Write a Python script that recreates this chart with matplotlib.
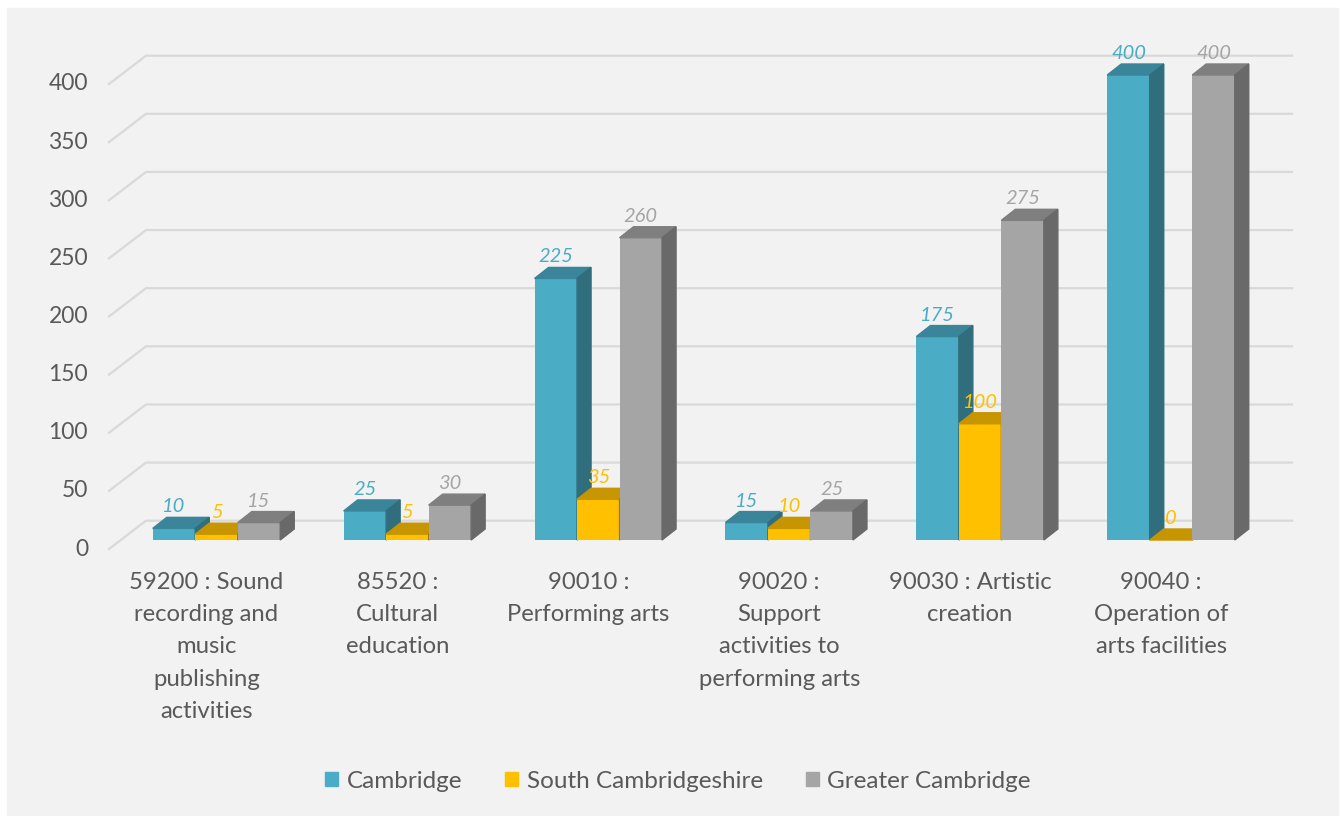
import matplotlib
matplotlib.use("Agg")
import matplotlib.pyplot as plt
from matplotlib.patches import Polygon, Rectangle, Patch

plt.rcParams['font.family'] = ['Lato', 'DejaVu Sans']

# Chart data
categories = [
    "59200 : Sound\nrecording and\nmusic\npublishing\nactivities",
    "85520 :\nCultural\neducation",
    "90010 :\nPerforming arts",
    "90020 :\nSupport\nactivities to\nperforming arts",
    "90030 : Artistic\ncreation",
    "90040 :\nOperation of\narts facilities",
]
series_names = ["Cambridge", "South Cambridgeshire", "Greater Cambridge"]
cambridge = [10, 25, 225, 15, 175, 400]
south_cambs = [5, 5, 35, 10, 100, 0]
greater_cambridge = [15, 30, 260, 25, 275, 400]
y_ticks = [0, 50, 100, 150, 200, 250, 300, 350, 400]

# front / top / side shades for each series
face_colors = ["#4BACC6", "#FFC000", "#A5A5A5"]
top_colors = ["#3A8599", "#C69500", "#7F7F7F"]
side_colors = ["#306E7E", "#A27A00", "#696969"]
text_grey = "#595959"
grid_grey = "#D9D9D9"

W, H = 1341, 816
X0, XSTEP = 216.5, 190.9   # pixel x of first category, pixels per category
Y0, YSCALE = 540.0, 1.1625  # pixel y of baseline, pixels per unit

fig = plt.figure(figsize=(W / 100, H / 100), dpi=100)
fig.patch.set_facecolor("white")
fig.add_artist(Rectangle((7 / W, 0), (1338 - 7) / W, (H - 8) / H,
                         transform=fig.transFigure, color="#F2F2F2", zorder=0))

ax = fig.add_axes([0, 0, 1, 1])
ax.set_facecolor("none")
ax.set_xlim(-X0 / XSTEP, (W - X0) / XSTEP)
ax.set_ylim((Y0 - H) / YSCALE, Y0 / YSCALE)
ax.axis("off")


def px(dx):
    return dx / XSTEP


def py(dy):
    return dy / YSCALE


# walls: back gridlines plus slanted lines on the left wall
back_left, back_right, front_x = px(146 - X0), px(1292 - X0), px(109 - X0)
back_dy, front_dy = py(19.3), py(-9)
for v in y_ticks:
    ax.plot([front_x, back_left, back_right],
            [v + front_dy, v + back_dy, v + back_dy],
            color=grid_grey, lw=1.6, zorder=1, solid_joinstyle="miter")
    ax.text(px(88 - X0), v + front_dy, str(v), ha="right", va="center",
            fontsize=16.5, color=text_grey)

# 3d-looking columns
bw = px(42.5)
ddx, ddy = px(14), py(11)
all_series = [cambridge, south_cambs, greater_cambridge]
for j, values in enumerate(all_series):
    xs = [i + (j - 1) * bw for i in range(len(categories))]
    ax.bar(xs, values, width=bw, color=face_colors[j], zorder=3 + j)
    for xc, v in zip(xs, values):
        left, right = xc - bw / 2, xc + bw / 2
        ax.add_patch(Polygon([(left, v), (right, v), (right + ddx, v + ddy),
                              (left + ddx, v + ddy)],
                             closed=True, color=top_colors[j], zorder=3 + j))
        ax.add_patch(Polygon([(right, 0), (right + ddx, ddy),
                              (right + ddx, v + ddy), (right, v)],
                             closed=True, color=side_colors[j], zorder=3 + j))
        ax.text(xc, v + ddy + py(5), str(v), ha="center", va="baseline",
                style="italic", fontsize=14.5, color=face_colors[j], zorder=10)

# category labels under each group
for i, label in enumerate(categories):
    ax.text(i - px(10), py(Y0 - 572), label, ha="center", va="top",
            fontsize=17.2, color=text_grey, linespacing=1.66)

handles = [Patch(color=c, label=n) for c, n in zip(face_colors, series_names)]
fig.legend(handles=handles, loc="center", bbox_to_anchor=(678 / W, 1 - 781 / H),
           ncol=3, frameon=False, fontsize=17.5, handlelength=0.55,
           handleheight=0.55, handletextpad=0.35, columnspacing=1.75,
           labelcolor=text_grey)

fig.savefig("out.png", dpi=100)
